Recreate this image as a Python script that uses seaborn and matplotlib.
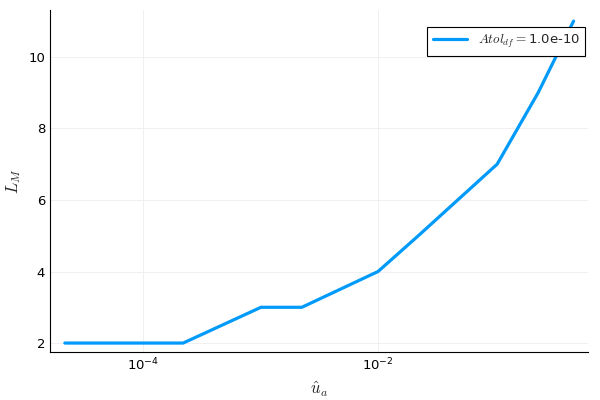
import numpy as np
import pandas as pd
import seaborn as sns
import matplotlib.pyplot as plt

# values
u_hat = [2.17e-5, 2.2e-4, 1.01e-3, 2.25e-3, 1e-2, 2.2e-2, 1.03e-1, 2.3e-1, 4.6e-1]
L_M = [2, 2, 3, 3, 4, 5, 7, 9, 11]
series_label = r'$Atol_{df} = $1.0e-10'

df = pd.DataFrame({'u': u_hat, 'L': L_M})

sns.set_style('white')
plt.rcParams['font.family'] = ['DejaVu Sans']
plt.rcParams['mathtext.fontset'] = 'cm'

fig = plt.figure(figsize=(6, 4), dpi=100)
ax = fig.add_axes([0.0833, 0.12, 0.897, 0.855])

sns.lineplot(data=df, x='u', y='L', color='#009AFA', linewidth=2.3,
             label=series_label, ax=ax)

ax.set_xscale('log')
ax.set_xlim(10**-4.79, 10**-0.213)
ax.set_ylim(1.75, 11.31)
ax.set_xticks([1e-4, 1e-2])
ax.set_xticks([], minor=True)
ax.set_yticks([2, 4, 6, 8, 10])
ax.grid(True, color='#f0f0f0', linewidth=0.7)
ax.tick_params(direction='in', length=3, labelsize=9.5, colors='black', width=0.6)
for s in ['top', 'right']:
    ax.spines[s].set_visible(False)
for s in ['left', 'bottom']:
    ax.spines[s].set_color('black')
    ax.spines[s].set_linewidth(0.8)

ax.set_xlabel(r'$\hat{u}_a$', fontsize=12)
ax.set_ylabel(r'$L_M$', fontsize=12)

leg = ax.legend(loc='upper right', bbox_to_anchor=(0.995, 0.95), borderaxespad=0,
                fontsize=9.5, fancybox=False, framealpha=1,
                edgecolor='black', handlelength=2.6, borderpad=0.45)
leg.get_frame().set_linewidth(0.8)

plt.savefig('out.png', dpi=100)
